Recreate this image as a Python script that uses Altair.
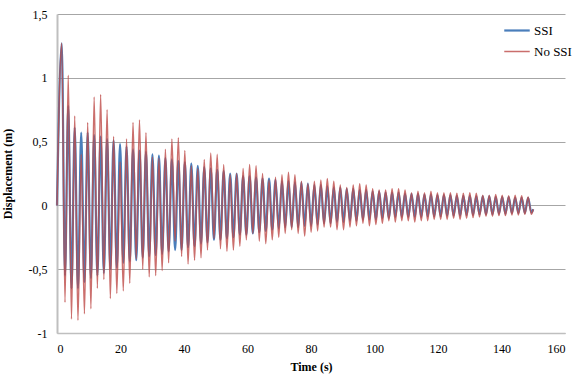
import altair as alt
import pandas as pd

# ---- data (peaks / troughs of each oscillation cycle) ----
PEAK_T = [1.50, 3.54, 5.58, 7.62, 9.66, 11.70, 13.74, 15.78, 17.82, 19.86,
          21.90, 23.94, 25.98, 28.02, 30.06, 32.10, 34.14, 36.18, 38.22, 40.26,
          42.30, 44.34, 46.38, 48.42, 50.46, 52.50, 54.54, 56.58, 58.62, 60.66,
          62.70, 64.74, 66.78, 68.82, 70.86, 72.90, 74.94, 76.98, 79.02, 81.06,
          83.10, 85.14, 87.18, 89.22, 91.26, 93.30, 95.34, 97.38, 99.42, 101.46,
          103.50, 105.54, 107.58, 109.62, 111.66, 113.70, 115.74, 117.78, 119.82, 121.86,
          123.90, 125.94, 127.98, 130.02, 132.06, 134.10, 136.14, 138.18, 140.22, 142.26,
          144.30, 146.34, 148.38]
TROUGH_T = [2.52, 4.56, 6.60, 8.64, 10.68, 12.72, 14.76, 16.80, 18.84, 20.88,
            22.92, 24.96, 27.00, 29.04, 31.08, 33.12, 35.16, 37.20, 39.24, 41.28,
            43.32, 45.36, 47.40, 49.44, 51.48, 53.52, 55.56, 57.60, 59.64, 61.68,
            63.72, 65.76, 67.80, 69.84, 71.88, 73.92, 75.96, 78.00, 80.04, 82.08,
            84.12, 86.16, 88.20, 90.24, 92.28, 94.32, 96.36, 98.40, 100.44, 102.48,
            104.52, 106.56, 108.60, 110.64, 112.68, 114.72, 116.76, 118.80, 120.84, 122.88,
            124.92, 126.96, 129.00, 131.04, 133.08, 135.12, 137.16, 139.20, 141.24, 143.28,
            145.32, 147.36, 149.40]
START_T, START_V = 0.0, 0.0
END_T, END_V = 150.0, -0.03

SSI_MAX = [1.27, 0.78, 0.61, 0.57, 0.57, 0.55, 0.54, 0.52, 0.51, 0.48,
           0.46, 0.44, 0.43, 0.42, 0.40, 0.39, 0.37, 0.36, 0.35, 0.34,
           0.33, 0.31, 0.30, 0.29, 0.28, 0.27, 0.25, 0.25, 0.23, 0.23,
           0.22, 0.21, 0.21, 0.20, 0.19, 0.19, 0.18, 0.18, 0.17, 0.16,
           0.16, 0.15, 0.14, 0.14, 0.13, 0.13, 0.12, 0.12, 0.11, 0.11,
           0.10, 0.10, 0.10, 0.09, 0.09, 0.09, 0.085, 0.085, 0.08, 0.08,
           0.08, 0.075, 0.075, 0.075, 0.07, 0.07, 0.07, 0.065, 0.065, 0.065,
           0.06, 0.06, 0.06]
SSI_MIN = [-0.55, -0.65, -0.65, -0.60, -0.57, -0.55, -0.53, -0.50, -0.49, -0.45,
           -0.44, -0.43, -0.41, -0.40, -0.39, -0.38, -0.36, -0.35, -0.35, -0.33,
           -0.32, -0.30, -0.29, -0.27, -0.27, -0.26, -0.25, -0.23, -0.23, -0.22,
           -0.21, -0.20, -0.19, -0.18, -0.17, -0.17, -0.17, -0.16, -0.16, -0.15,
           -0.14, -0.14, -0.13, -0.13, -0.12, -0.12, -0.11, -0.11, -0.11, -0.10,
           -0.10, -0.09, -0.09, -0.09, -0.09, -0.09, -0.085, -0.085, -0.085, -0.08,
           -0.08, -0.08, -0.075, -0.075, -0.07, -0.07, -0.07, -0.065, -0.065, -0.06,
           -0.06, -0.06, -0.055]
NOSSI_MAX = [1.27, 1.02, 0.70, 0.40, 0.65, 0.85, 0.87, 0.75, 0.54, 0.34,
             0.52, 0.65, 0.67, 0.57, 0.38, 0.37, 0.44, 0.52, 0.53, 0.43,
             0.31, 0.29, 0.36, 0.41, 0.40, 0.32, 0.24, 0.25, 0.29, 0.32,
             0.31, 0.25, 0.20, 0.22, 0.24, 0.26, 0.24, 0.19, 0.17, 0.19,
             0.20, 0.21, 0.19, 0.16, 0.14, 0.16, 0.17, 0.16, 0.13, 0.12,
             0.12, 0.13, 0.13, 0.12, 0.10, 0.11, 0.10, 0.11, 0.10, 0.10,
             0.10, 0.095, 0.095, 0.10, 0.095, 0.08, 0.08, 0.085, 0.08, 0.075,
             0.08, 0.075, 0.065]
NOSSI_MIN = [-0.76, -0.89, -0.90, -0.85, -0.81, -0.65, -0.58, -0.73, -0.69, -0.67,
             -0.61, -0.42, -0.50, -0.56, -0.55, -0.51, -0.45, -0.28, -0.40, -0.46,
             -0.43, -0.41, -0.35, -0.26, -0.34, -0.36, -0.35, -0.32, -0.27, -0.22,
             -0.28, -0.30, -0.27, -0.25, -0.22, -0.19, -0.22, -0.24, -0.21, -0.20,
             -0.17, -0.17, -0.19, -0.19, -0.17, -0.16, -0.14, -0.16, -0.15, -0.14,
             -0.12, -0.13, -0.12, -0.12, -0.13, -0.12, -0.12, -0.11, -0.11, -0.11,
             -0.10, -0.11, -0.10, -0.095, -0.09, -0.085, -0.085, -0.08, -0.08, -0.075,
             -0.075, -0.07, -0.07]

SERIES = ["SSI", "No SSI"]
COLORS = ["#4A7EBB", "#BE4B48"]
WIDTHS = [2.2, 1.5]
OPACITY = [1.0, 0.8]
Y_TICKS = [-1, -0.5, 0, 0.5, 1, 1.5]
X_TICKS = [0, 20, 40, 60, 80, 100, 120, 140, 160]


def build(name, maxs, mins):
    rows = [(name, START_T, START_V)]
    for k in range(len(PEAK_T)):
        rows.append((name, PEAK_T[k], maxs[k]))
        rows.append((name, TROUGH_T[k], mins[k]))
    rows.append((name, END_T, END_V))
    return rows


df = pd.DataFrame(build("SSI", SSI_MAX, SSI_MIN) + build("No SSI", NOSSI_MAX, NOSSI_MIN),
                  columns=["series", "t", "v"])

FONT = "Liberation Serif, Times New Roman, serif"

x = alt.X("t:Q", scale=alt.Scale(domain=[0, 160], nice=False),
          axis=alt.Axis(values=X_TICKS, title="Time (s)", grid=False, ticks=False,
                        labelPadding=10, titlePadding=7, domainColor="#BFBFBF",
                        domainWidth=1.5))
y = alt.Y("v:Q", scale=alt.Scale(domain=[-1, 1.5], nice=False),
          axis=alt.Axis(values=Y_TICKS, title="Displacement (m)", grid=True,
                        gridColor="#A6A6A6", gridWidth=1, ticks=False,
                        labelPadding=10, titlePadding=14, domainColor="#BFBFBF",
                        domainWidth=2,
                        labelExpr="replace(toString(datum.value), '.', ',')"))

color = alt.Color("series:N", scale=alt.Scale(domain=SERIES, range=COLORS),
                  legend=alt.Legend(orient="none", legendX=446, legendY=8, title=None,
                                    symbolType="stroke", symbolSize=650,
                                    labelFont=FONT, labelFontSize=13, labelColor="#000000",
                                    labelOffset=3, rowPadding=4, clipHeight=17))
sw = alt.StrokeWidth("series:N", scale=alt.Scale(domain=SERIES, range=WIDTHS), legend=None)
op = alt.Opacity("series:N", scale=alt.Scale(domain=SERIES, range=OPACITY), legend=None)

base = alt.Chart(df).mark_line(interpolate="monotone").encode(
    x=x, y=y, color=color, strokeWidth=sw, opacity=op, order="t:Q")

layer_ssi = base.transform_filter(alt.datum.series == "SSI")
layer_nossi = base.transform_filter(alt.datum.series == "No SSI")

chart = alt.layer(layer_ssi, layer_nossi).properties(
    width=508, height=319,
    autosize=alt.AutoSizeParams(type="none"),
    padding={"left": 57, "top": 14, "right": 12, "bottom": 50},
    background="white",
).configure_view(stroke=None).configure_axis(
    labelFont=FONT, labelFontSize=12, labelColor="#000000",
    titleFont=FONT, titleFontSize=12, titleFontWeight="bold", titleColor="#000000",
).configure_legend(labelFont=FONT)

chart.save("out.html", embed_options={"renderer": "svg", "actions": False})
